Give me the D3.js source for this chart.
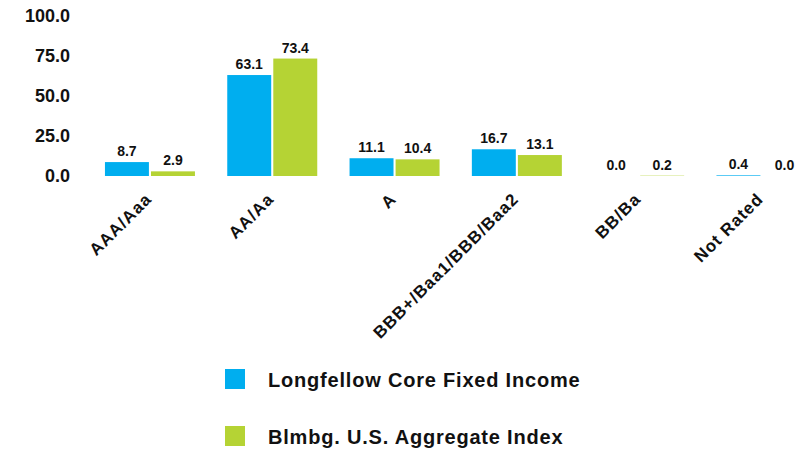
<!DOCTYPE html>
<html><head><meta charset="utf-8">
<script src="https://cdn.jsdelivr.net/npm/d3@7"></script>
<style>body{margin:0;background:#fff}svg{display:block}text{font-family:"Liberation Sans",Arial,sans-serif;font-weight:bold;fill:#111}</style>
</head><body><svg id="c" width="805" height="451"></svg>
<script>
const categories = ["AAA/Aaa","AA/Aa","A","BBB+/Baa1/BBB/Baa2","BB/Ba","Not Rated"];
const seriesNames = ["Longfellow Core Fixed Income","Blmbg. U.S. Aggregate Index"];
const longfellow = [8.7,63.1,11.1,16.7,0.0,0.4];
const aggregate = [2.9,73.4,10.4,13.1,0.2,0.0];
const yTicks = [0,25,50,75,100];
const colors = ["#00AEEF","#B5D334"];

const svg = d3.select("#c");
const x = d3.scaleBand().domain(categories).range([89.35,823.15]).paddingInner(0).paddingOuter(0);
const sub = d3.scaleBand().domain([0,1]).range([15.6,105.6]).paddingInner(0.045);
const y = d3.scaleLinear().domain([0,100]).range([176,16]);

const yAxis = d3.axisLeft(y).tickValues(yTicks).tickFormat(d3.format(".1f")).tickSize(0).tickPadding(0);
const ga = svg.append("g").attr("transform","translate(70,-1)").call(yAxis);
ga.select(".domain").remove();
ga.selectAll("text").style("font-size","18px").style("font-family","Liberation Sans, Arial, sans-serif").style("font-weight","bold").attr("fill","#111").attr("dy","0.35em");

const data = categories.map((c,i)=>({c, v:[longfellow[i],aggregate[i]]}));
const g = svg.append("g").selectAll("g").data(data).join("g").attr("transform",d=>`translate(${x(d.c)},0)`);
g.selectAll("rect").data(d=>d.v.map((v,k)=>({v,k}))).join("rect")
  .attr("x",d=>sub(d.k)).attr("width",sub.bandwidth())
  .attr("y",d=>y(d.v)).attr("height",d=>y(0)-y(d.v))
  .attr("fill",d=>colors[d.k]);
g.selectAll("text.v").data(d=>d.v.map((v,k)=>({v,k}))).join("text").attr("class","v")
  .attr("x",d=>sub(d.k)+sub.bandwidth()/2).attr("y",d=>y(d.v)-6)
  .attr("text-anchor","middle").style("font-size","14px").text(d=>d.v.toFixed(1));

const xAxis = d3.axisBottom(x).tickSize(0).tickPadding(0);
const gx = svg.append("g").attr("transform","translate(-2,196)").call(xAxis);
gx.select(".domain").remove();
gx.selectAll("text").attr("transform","rotate(-45)").attr("text-anchor","end").attr("dy","0.35em").attr("y",0).attr("x",0)
  .style("font-size","17px").style("font-family","Liberation Sans, Arial, sans-serif").style("font-weight","bold").style("letter-spacing","1px").attr("fill","#111");

const lg = svg.append("g").selectAll("g").data(seriesNames).join("g").attr("transform",(d,i)=>`translate(225,${369+i*57})`);
lg.append("rect").attr("width",20).attr("height",20).attr("fill",(d,i)=>colors[i]);
lg.append("text").attr("x",43).attr("y",18).style("font-size","20px").style("letter-spacing","0.8px").text(d=>d);
</script></body></html>
